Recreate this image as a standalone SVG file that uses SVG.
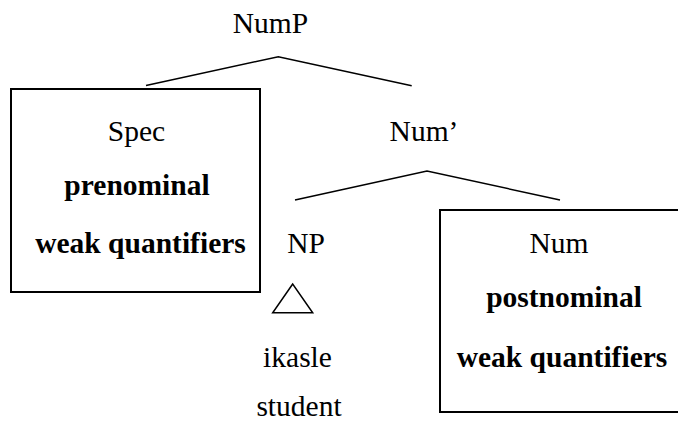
<svg xmlns="http://www.w3.org/2000/svg" width="678" height="422" viewBox="0 0 678 422">
<style>
text{font-family:'Liberation Serif',Tinos,'Times New Roman',Times,'Nimbus Roman','Nimbus Roman No9 L','FreeSerif','Noto Serif','DejaVu Serif','Noto Serif CJK SC',serif;font-size:29.5px;fill:#000;text-anchor:middle}
.b{font-weight:bold}
.box{fill:none;stroke:#000;stroke-width:2}
.edge{fill:none;stroke:#000;stroke-width:1.5}
</style>
<rect width="678" height="422" fill="#fff"/>
<g id="connectors">
<polyline class="edge" points="146,85.5 278.3,56.7 411.7,85.7"/>
<polyline class="edge" points="295,200 427,171 560,200"/>
</g>
<g id="nump"><text x="270.5" y="33">NumP</text></g>
<g id="spec">
<rect class="box" x="11" y="89" width="249" height="203"/>
<text x="136.5" y="141">Spec</text>
<text class="b" x="137" y="195">prenominal</text>
<text class="b" x="140.5" y="253">weak quantifiers</text>
</g>
<g id="numbar"><text x="424" y="141">Num’</text></g>
<g id="np">
<text x="306" y="253">NP</text>
<polygon class="edge" points="292.7,284 272.7,312.7 312.7,312.7"/>
<text x="297.5" y="367">ikasle</text>
<text x="299" y="416">student</text>
</g>
<g id="num">
<rect class="box" x="440" y="210" width="241" height="202"/>
<text x="559" y="253">Num</text>
<text class="b" x="564" y="307">postnominal</text>
<text class="b" x="562" y="367">weak quantifiers</text>
</g>
</svg>
